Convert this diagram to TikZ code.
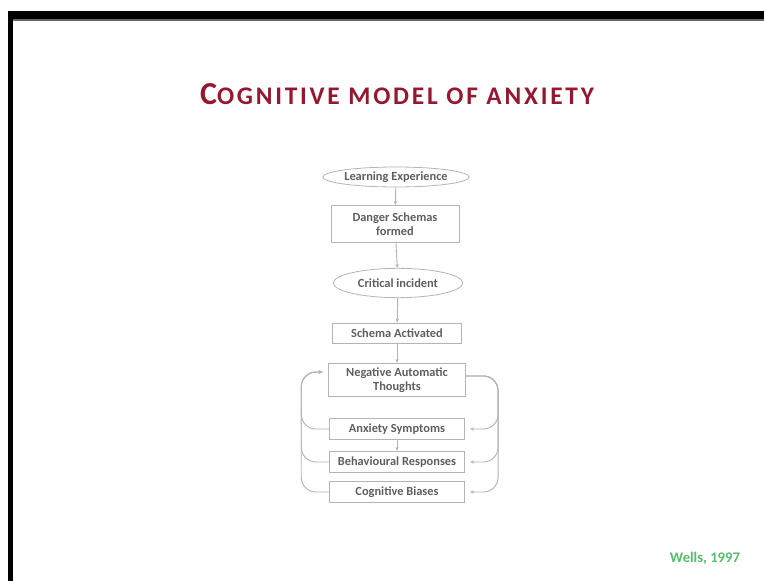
\documentclass[tikz,border=0pt]{standalone}
\usepackage{fontspec}
\setmainfont{Carlito}
\usetikzlibrary{shapes.geometric, arrows.meta}
\definecolor{titlered}{RGB}{150,24,48}
\definecolor{wellsgreen}{RGB}{85,190,105}
\definecolor{boxgrey}{RGB}{180,180,180}
\definecolor{textgrey}{RGB}{95,95,95}

\begin{document}
\begin{tikzpicture}[x=0.75pt, y=-0.75pt,
  stage/.style={draw=boxgrey, line width=0.6pt, text=textgrey, align=center,
    font=\fontsize{9.3}{10.5}\selectfont\bfseries, inner sep=0pt},
  oval/.style={stage, ellipse},
  flow/.style={draw=boxgrey, line width=0.7pt, -{Stealth[length=3pt, width=2.6pt]}},
  loop/.style={flow, rounded corners=11pt}]
\useasboundingbox (0,0) rectangle (764,581);
\fill [white] (0,0) rectangle (764,581);
\fill [black] (8,11) rectangle (764,19);
\fill [black!60] (8,19) rectangle (764,21);
\fill [black] (8,11) rectangle (13,581);

\node (title) at (397,94) [text=titlered, font=\bfseries]
  {\fontsize{24}{26}\selectfont C\addfontfeatures{LetterSpace=11}\fontsize{19}{20}\selectfont OGNITIVE MODEL OF ANXIETY};

\node (learn) at (396,177) [oval, minimum width=99pt, minimum height=15pt] {Learning Experience};
\node (danger) at (395,224) [stage, minimum width=96pt, minimum height=28pt] {Danger Schemas\\formed};
\node (crit) at (398,283) [oval, minimum width=97pt, minimum height=22pt] {Critical incident};
\node (active) at (397,333) [stage, minimum width=97pt, minimum height=15pt] {Schema Activated};
\node (nat) at (397,380) [stage, minimum width=103pt, minimum height=25pt] {Negative Automatic\\Thoughts};
\node (anx) at (397,429) [stage, minimum width=101pt, minimum height=16pt] {Anxiety Symptoms};
\node (beh) at (397,462) [stage, minimum width=101pt, minimum height=16pt] {Behavioural Responses};
\node (cog) at (397,492) [stage, minimum width=101pt, minimum height=16pt] {Cognitive Biases};

\draw [flow] (learn) -- (danger);
\draw [flow] (danger) -- (crit);
\draw [flow] (crit) -- (active);
\draw [flow] (active) -- (nat);
\draw [flow] (anx) -- (beh);

\foreach \b in {anx, beh, cog} {
  \draw [loop] ([yshift=3pt]nat.east) -- ++(32,0) |- ([xshift=4pt]\b.east);
  \draw [loop] (\b.west) -- ++(-28,0) |- ([xshift=-4pt, yshift=6pt]nat.west);
}

\node (ref) at (705,558) [text=wellsgreen, font=\fontsize{11}{13}\selectfont\bfseries] {Wells, 1997};
\end{tikzpicture}
\end{document}
